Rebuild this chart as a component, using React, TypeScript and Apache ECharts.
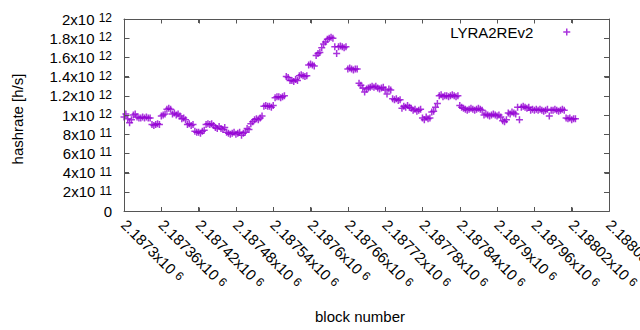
import React, { useEffect, useRef } from "react";
import * as echarts from "echarts";

// block numbers of the plotted samples
const blockNumbers = [
  2187300, 2187303, 2187306, 2187309, 2187312, 2187315, 2187318, 2187321, 2187324, 2187327,
  2187330, 2187333, 2187336, 2187339, 2187342, 2187345, 2187348, 2187351, 2187354, 2187357,
  2187360, 2187363, 2187366, 2187369, 2187372, 2187375, 2187378, 2187381, 2187384, 2187387,
  2187390, 2187393, 2187396, 2187399, 2187402, 2187405, 2187408, 2187411, 2187414, 2187417,
  2187420, 2187423, 2187426, 2187429, 2187432, 2187435, 2187438, 2187441, 2187444, 2187447,
  2187450, 2187453, 2187456, 2187459, 2187462, 2187465, 2187468, 2187471, 2187474, 2187477,
  2187480, 2187483, 2187486, 2187489, 2187492, 2187495, 2187498, 2187501, 2187504, 2187507,
  2187510, 2187513, 2187516, 2187519, 2187522, 2187525, 2187528, 2187531, 2187534, 2187537,
  2187540, 2187543, 2187546, 2187549, 2187552, 2187555, 2187558, 2187561, 2187564, 2187567,
  2187570, 2187573, 2187576, 2187579, 2187582, 2187585, 2187588, 2187591, 2187594, 2187597,
  2187600, 2187603, 2187606, 2187609, 2187612, 2187615, 2187618, 2187621, 2187624, 2187627,
  2187630, 2187633, 2187636, 2187639, 2187642, 2187645, 2187648, 2187651, 2187654, 2187657,
  2187660, 2187663, 2187666, 2187669, 2187672, 2187675, 2187678, 2187681, 2187684, 2187687,
  2187690, 2187693, 2187696, 2187699, 2187702, 2187705, 2187708, 2187711, 2187714, 2187717,
  2187720, 2187723, 2187726, 2187729, 2187732, 2187735, 2187738, 2187741, 2187744, 2187747,
  2187750, 2187753, 2187756, 2187759, 2187762, 2187765, 2187768, 2187771, 2187774, 2187777,
  2187780, 2187783, 2187786, 2187789, 2187792, 2187795, 2187798, 2187801, 2187804, 2187807,
  2187810, 2187813, 2187816, 2187819, 2187822, 2187825, 2187828, 2187831, 2187834, 2187837,
  2187840, 2187843, 2187846, 2187849, 2187852, 2187855, 2187858, 2187861, 2187864, 2187867,
  2187870, 2187873, 2187876, 2187879, 2187882, 2187885, 2187888, 2187891, 2187894, 2187897,
  2187900, 2187903, 2187906, 2187909, 2187912, 2187915, 2187918, 2187921, 2187924, 2187927,
  2187930, 2187933, 2187936, 2187939, 2187942, 2187945, 2187948, 2187951, 2187954, 2187957,
  2187960, 2187963, 2187966, 2187969, 2187972, 2187975, 2187978, 2187981, 2187984, 2187987,
  2187990, 2187993, 2187996, 2187999, 2188002, 2188005, 2188008, 2188011, 2188014, 2188017,
  2188020, 2188023, 2188026,
];

// hashrate of each sample, in units of 1e10 h/s
const hashrateE10 = [
  98, 101, 96, 92, 95, 100, 101, 98, 97, 97,
  98, 97, 98, 97, 97, 90, 89, 90, 91, 90,
  99, 100, 101, 106, 107, 106, 101, 102, 100, 101,
  99, 96, 97, 95, 90, 91, 89, 90, 83, 82,
  82, 81, 83, 84, 90, 91, 90, 91, 89, 87,
  86, 88, 86, 85, 87, 82, 81, 80, 81, 82,
  80, 81, 82, 79, 81, 82, 86, 85, 91, 93,
  95, 96, 95, 97, 99, 109, 110, 109, 109, 108,
  110, 118, 119, 119, 118, 119, 120, 140, 139, 136,
  136, 135, 137, 136, 141, 142, 141, 140, 141, 152,
  153, 152, 151, 162, 164, 165, 170, 174, 176, 179,
  180, 181, 180, 171, 164, 171, 172, 171, 170, 171,
  148, 149, 148, 147, 148, 148, 133, 131, 128, 124,
  127, 128, 129, 130, 129, 130, 128, 127, 128, 129,
  126, 122, 127, 126, 117, 116, 117, 115, 116, 107,
  109, 108, 110, 108, 107, 105, 106, 104, 105, 106,
  97, 95, 98, 96, 97, 103, 104, 108, 112, 120,
  121, 119, 120, 120, 119, 120, 121, 120, 119, 120,
  110, 108, 107, 106, 105, 106, 107, 106, 105, 106,
  107, 106, 105, 100, 101, 100, 99, 100, 101, 100,
  99, 100, 98, 94, 93, 95, 102, 101, 103, 102,
  101, 108, 95, 108, 109, 108, 107, 108, 105, 106,
  105, 106, 105, 106, 105, 104, 105, 106, 99, 105,
  105, 106, 105, 104, 105, 106, 105, 97, 96, 97,
  95, 96, 96,
];

const seriesName = "LYRA2REv2";
const xTitle = "block number";
const yTitle = "hashrate [h/s]";

const X_MIN = 2187300;
const X_MAX = 2188080;
const X_STEP = 60;
const Y_MIN = 0;
const Y_MAX = 2e12;
const Y_STEP = 2e11;

const PURPLE = "#9400D3";
const INK = "#010101";
const FRAME = "#555555";
const FONT = "'Liberation Sans', Arial, Helvetica, sans-serif";
const PLUS = "path://M0,3.5L7,3.5M3.5,0L3.5,7";

function sci(v: number): string {
  if (v === 0) return "{m|0}";
  const e = Math.floor(Math.log10(Math.abs(v)) + 1e-9);
  const m = parseFloat((v / Math.pow(10, e)).toPrecision(6));
  return `{m|${m}x10 }{s|${e}}`;
}

function makeRich() {
  return {
    m: { fontSize: 15, lineHeight: 14, color: INK, fontFamily: FONT },
    s: { fontSize: 12, lineHeight: 2, verticalAlign: "top", color: INK, fontFamily: FONT },
  };
}

function axisLine() {
  return { show: true, onZero: false, lineStyle: { color: FRAME, width: 1 } };
}
function axisTick(len: number) {
  return { show: true, inside: true, length: len, lineStyle: { color: FRAME, width: 1 } };
}

export default function App() {
  const ref = useRef<HTMLDivElement>(null);
  useEffect(() => {
    document.body.style.margin = "0";
    if (!ref.current) return;
    const chart = echarts.init(ref.current, undefined, { renderer: "svg" });
    const data = blockNumbers.map((b, i) => [b, hashrateE10[i] * 1e10]);
    chart.setOption({
      animation: false,
      grid: { left: 124, right: 31, top: 19, bottom: 119, outerBoundsMode: "none" },
      xAxis: [
        {
          type: "value",
          min: X_MIN,
          max: X_MAX,
          interval: X_STEP,
          axisLine: axisLine(),
          axisTick: axisTick(4),
          splitLine: { show: false },
          axisLabel: {
            rotate: -45,
            margin: 11,
            showMinLabel: true,
            showMaxLabel: true,
            formatter: (v: number) => sci(v),
            rich: makeRich(),
          },
        },
        {
          type: "value",
          position: "top",
          min: X_MIN,
          max: X_MAX,
          interval: X_STEP,
          axisLine: axisLine(),
          axisTick: axisTick(4),
          splitLine: { show: false },
          axisLabel: { show: false },
        },
      ],
      yAxis: [
        {
          type: "value",
          min: Y_MIN,
          max: Y_MAX,
          interval: Y_STEP,
          axisLine: axisLine(),
          axisTick: axisTick(5),
          splitLine: { show: false },
          axisLabel: {
            margin: 12,
            showMinLabel: true,
            showMaxLabel: true,
            formatter: (v: number) => sci(v),
            rich: makeRich(),
          },
        },
        {
          type: "value",
          position: "right",
          min: Y_MIN,
          max: Y_MAX,
          interval: Y_STEP,
          axisLine: axisLine(),
          axisTick: axisTick(5),
          splitLine: { show: false },
          axisLabel: { show: false },
        },
      ],
      legend: {
        show: true,
        right: 69,
        top: 24,
        padding: 0,
        align: "right",
        itemWidth: 7,
        itemHeight: 7,
        itemStyle: { color: PURPLE, borderColor: PURPLE, borderWidth: 1.5 },
        textStyle: { fontSize: 15, lineHeight: 16, color: INK, fontFamily: FONT, padding: [0, 25, 0, 0] },
        data: [{ name: seriesName, icon: PLUS }],
      },
      series: [
        {
          type: "scatter",
          name: seriesName,
          data,
          symbol: PLUS,
          symbolSize: 7,
          itemStyle: { color: PURPLE, borderColor: PURPLE, borderWidth: 1.5 },
        },
      ],
    });

    // frame and mirrored ticks placed through the chart's own scales
    const px = (x: number, y: number) => chart.convertToPixel({ gridIndex: 0 }, [x, y]) as number[];
    const snap = (v: number) => Math.round(v) + 0.5;
    const [l, t] = px(X_MIN, Y_MAX);
    const [r, b] = px(X_MAX, Y_MIN);
    const L = snap(l), T = snap(t), R = snap(r), B = snap(b);
    const tickStyle = { stroke: FRAME, lineWidth: 1 };
    const elements: any[] = [
      {
        type: "rect",
        z: 10,
        shape: { x: L, y: T, width: R - L, height: B - T },
        style: { fill: "none", stroke: FRAME, lineWidth: 1 },
      },
    ];
    for (let v = Y_MIN + Y_STEP; v < Y_MAX; v += Y_STEP) {
      const yy = snap(px(X_MIN, v)[1]);
      elements.push({ type: "line", z: 10, shape: { x1: L, y1: yy, x2: L + 5, y2: yy }, style: tickStyle });
      elements.push({ type: "line", z: 10, shape: { x1: R, y1: yy, x2: R - 5, y2: yy }, style: tickStyle });
    }
    for (let v = X_MIN + X_STEP; v < X_MAX; v += X_STEP) {
      const xx = snap(px(v, Y_MIN)[0]);
      elements.push({ type: "line", z: 10, shape: { x1: xx, y1: B, x2: xx, y2: B - 4 }, style: tickStyle });
      elements.push({ type: "line", z: 10, shape: { x1: xx, y1: T, x2: xx, y2: T + 4 }, style: tickStyle });
    }
    elements.push({
      type: "text",
      x: 17,
      y: 119,
      rotation: Math.PI / 2,
      style: { text: yTitle, fontSize: 15, fontFamily: FONT, fill: INK, align: "center", verticalAlign: "middle" },
    });
    elements.push({
      type: "text",
      x: 360,
      y: 316,
      style: { text: xTitle, fontSize: 15, fontFamily: FONT, fill: INK, align: "center", verticalAlign: "middle" },
    });
    chart.setOption({ graphic: elements });

    return () => chart.dispose();
  }, []);
  return <div ref={ref} style={{ width: 640, height: 330 }} />;
}
